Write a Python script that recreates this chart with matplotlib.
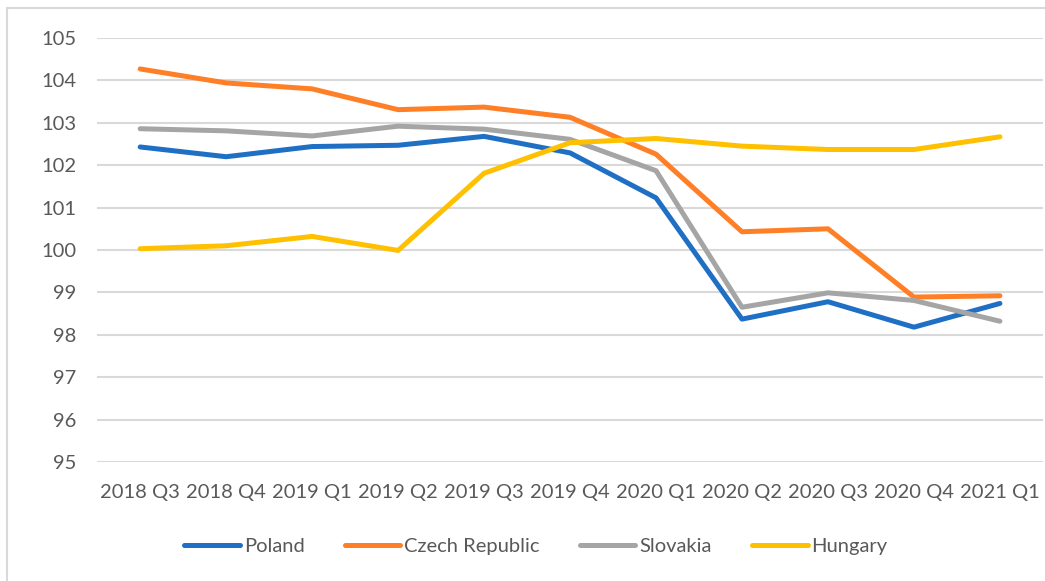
import matplotlib
matplotlib.use("Agg")

import matplotlib.pyplot as plt
import matplotlib.patches as mpatches

plt.rcParams["font.family"] = ["Lato", "DejaVu Sans"]

quarters = ["2018 Q3", "2018 Q4", "2019 Q1", "2019 Q2", "2019 Q3", "2019 Q4",
            "2020 Q1", "2020 Q2", "2020 Q3", "2020 Q4", "2021 Q1"]
poland = [102.43, 102.20, 102.44, 102.47, 102.68, 102.29, 101.23, 98.37, 98.78, 98.18, 98.74]
czech = [104.27, 103.94, 103.80, 103.31, 103.37, 103.13, 102.26, 100.43, 100.50, 98.89, 98.92]
slovakia = [102.86, 102.81, 102.69, 102.92, 102.85, 102.61, 101.87, 98.65, 98.99, 98.81, 98.32]
hungary = [100.03, 100.10, 100.32, 99.99, 101.81, 102.53, 102.63, 102.45, 102.37, 102.37, 102.67]

series = [
    ("Poland", poland, "#1F6FC5"),
    ("Czech Republic", czech, "#FF7F27"),
    ("Slovakia", slovakia, "#A5A5A5"),
    ("Hungary", hungary, "#FFC000"),
]

C_TEXT = "#595959"
C_GRID = "#D9D9D9"
FS = 14.5

fig = plt.figure(figsize=(10.45, 5.81), dpi=100)
ax = fig.add_axes([0.093, 0.2048, 0.905, 0.7298])

x = range(len(quarters))
for name, vals, color in series:
    ax.plot(x, vals, color=color, linewidth=3.6, label=name,
            solid_capstyle="round", solid_joinstyle="round", zorder=3)

ax.set_ylim(95, 105)
ax.set_yticks(range(95, 106))
ax.set_xlim(-0.5, len(quarters) - 0.5)
ax.set_xticks(list(x))
ax.set_xticklabels(quarters)
ax.grid(axis="y", color=C_GRID, linewidth=1.5, zorder=0)
for s in ax.spines.values():
    s.set_visible(False)
ax.tick_params(axis="both", length=0, colors=C_TEXT, labelsize=FS)
ax.tick_params(axis="y", pad=15)
ax.tick_params(axis="x", pad=16)

leg = fig.legend(loc="center", bbox_to_anchor=(0.513, 0.059), ncol=4,
                 frameon=False, fontsize=FS, handlelength=2.75,
                 handletextpad=0.2, columnspacing=2.0)
for t in leg.get_texts():
    t.set_color(C_TEXT)
for h in leg.get_lines():
    h.set_linewidth(3.6)

# outer frame (right and bottom edges fall outside the image)
fig.patches.append(mpatches.Rectangle((0.0067, -0.1), 1.2, 1.086, transform=fig.transFigure,
                                      fill=False, edgecolor=C_GRID, linewidth=1.5))

fig.savefig("out.png", dpi=100, facecolor="white")
